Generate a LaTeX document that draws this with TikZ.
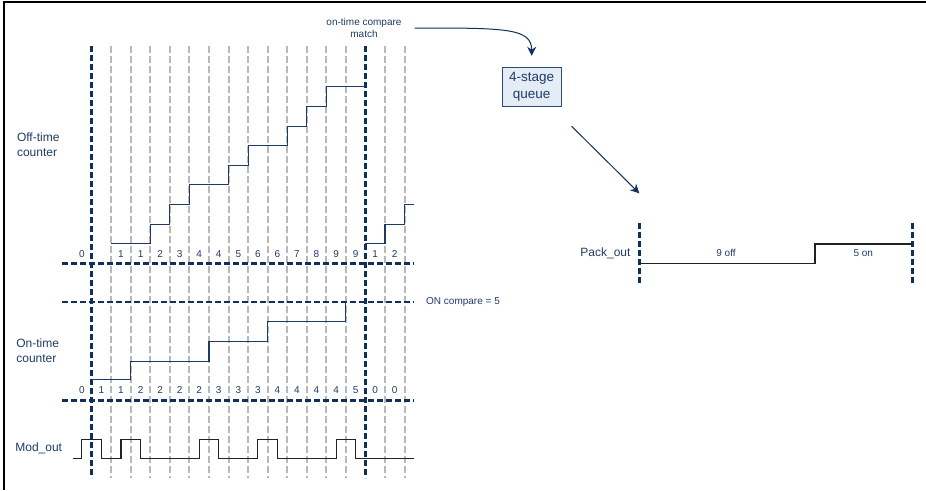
\documentclass[tikz,border=0pt]{standalone}
\usepackage{fontspec}
\setmainfont{Liberation Sans}
\usepackage{xcolor}
\definecolor{cNavy}{HTML}{10305C}
\definecolor{cText}{HTML}{1F3B66}
\definecolor{cStep}{HTML}{1F3864}
\definecolor{cGrid}{HTML}{B8B8B8}
\definecolor{cQueue}{HTML}{E4ECF6}
\definecolor{cQueueLine}{HTML}{2E4A72}
\definecolor{cSig}{HTML}{222222}
\usepackage{tikz}
\usetikzlibrary{positioning,arrows.meta}
\tikzset{
  dash-major/.style={draw=cNavy,line width=2.6pt,dash pattern=on 6pt off 3pt},
  dash-minor/.style={draw=cGrid,line width=2pt,dash pattern=on 7pt off 3pt},
  stair-line/.style={draw=cStep,line width=1.1pt},
  sig-line/.style={draw=cSig,line width=1.1pt},
  node-queue/.style={draw=cQueueLine,line width=1pt,fill=cQueue,
    minimum width=58.7pt,minimum height=39.4pt,align=center,text=cText,
    font=\fontsize{13.5}{16.7}\selectfont},
  lbl/.style={text=cText,align=left,font=\fontsize{12}{15}\selectfont},
  note/.style={text=cText,align=center,font=\fontsize{10}{12.3}\selectfont},
  digit/.style={text=cText,inner sep=0pt,font=\fontsize{10}{12}\selectfont},
  arrow/.style={-{Stealth[length=9pt,width=9pt]},line width=1pt,draw=cNavy},
}
\begin{document}
\begin{tikzpicture}[x=1pt,y=-1pt]
  \useasboundingbox (0,0) rectangle (926,490);
  % frame, top and left edge only
  \draw[line width=1.5pt] (4,490) -- (4,2) -- (926,2);

  % clock grid
  \begin{scope}[xshift=91.7pt,x=19.55pt]
    \foreach \k in {1,...,13,15,16}
      \draw[dash-minor] (\k,46) -- (\k,478);
    \foreach \k in {0,14}
      \draw[dash-major] (\k,46) -- (\k,478);
  \end{scope}

  % off-time counter
  \begin{scope}[xshift=91.7pt,yshift=-263.3pt,x=19.55pt,y=19.6pt]
    \draw[dash-major] (-1.5,0) -- (16.5,0);
    \draw[stair-line] (1,1) -| (3,2) -| (4,3) -| (5,4) -| (7,5) -| (8,6)
      -| (10,7) -| (11,8) -| (12,9) -- (14,9);
    \draw[stair-line] (14,1) -| (15,2) -| (16,3) -- (16.5,3);
    \foreach \k/\v in {-1/0,1/1,2/1,3/2,4/3,5/4,6/4,7/5,8/6,9/6,10/7,
        11/8,12/9,13/9,14/1,15/2}
      \node[digit] (off-d\k) at (\k+.5,.47) {\v};
  \end{scope}

  % on-time counter
  \begin{scope}[xshift=91.7pt,yshift=-400.5pt,x=19.55pt,y=19.7pt]
    \draw[dash-major] (-1.5,0) -- (16.5,0);
    \draw[dash-major] (-1.5,5) -- (16.5,5);
    \draw[stair-line] (0,1.07) -| (2,2) -| (6,3) -| (9,4) -| (13,5);
    \foreach \v [count=\k from -1] in {0,1,1,2,2,2,2,3,3,3,4,4,4,4,5,0,0}
      \node[digit] (on-d\k) at (\k+.5,.53) {\v};
    \node[note,anchor=west] (cmp-lbl) at (16.93,5) {ON compare = 5};
  \end{scope}

  % modulator output
  \begin{scope}[xshift=91.7pt,yshift=-458.3pt,x=19.55pt,y=19pt]
    \draw[sig-line] (-0.97,0) -| (-0.5,1) -| (0.5,0) -| (1.5,1) -| (2.5,0)
      -| (5.5,1) -| (6.5,0) -| (8.5,1) -| (9.5,0) -| (12.5,1) -| (13.5,0)
      -- (16.5,0);
  \end{scope}

  \node[lbl,anchor=west] (off-lbl) at (13.5,144.7) {Off-time\\counter};
  \node[lbl,anchor=west] (on-lbl) at (12.8,350.8) {On-time\\counter};
  \node[lbl,anchor=west] (mod-lbl) at (11.8,448.3) {Mod\_out};

  % queue path
  \node[note] (match) at (364,28) {on-time compare\\match};
  \node[node-queue] (queue) at (531.7,87) {4-stage\\queue};
  \draw[arrow] ([xshift=9.5pt]match.east) .. controls +(90,0) and +(0,-28)
    .. ([yshift=11pt]queue.north);
  \coordinate (pack-in) at (639.3,193.3);
  \draw[arrow] ([xshift=10pt,yshift=-19pt]queue.south east) -- (pack-in);

  % packed output
  \draw[dash-major] (639.3,222.7) -- (639.3,282.7);
  \draw[dash-major] (912.3,222.7) -- (912.3,282.7);
  \draw[sig-line] (639.3,263.3) -| (815,244) -- (912.3,244);
  \node[lbl,anchor=east] (pack-lbl) at (634,253.3) {Pack\_out};
  \node[note] (pack-off) at (726,253.3) {9 off};
  \node[note] (pack-on) at (863.3,253.3) {5 on};
\end{tikzpicture}
\end{document}
